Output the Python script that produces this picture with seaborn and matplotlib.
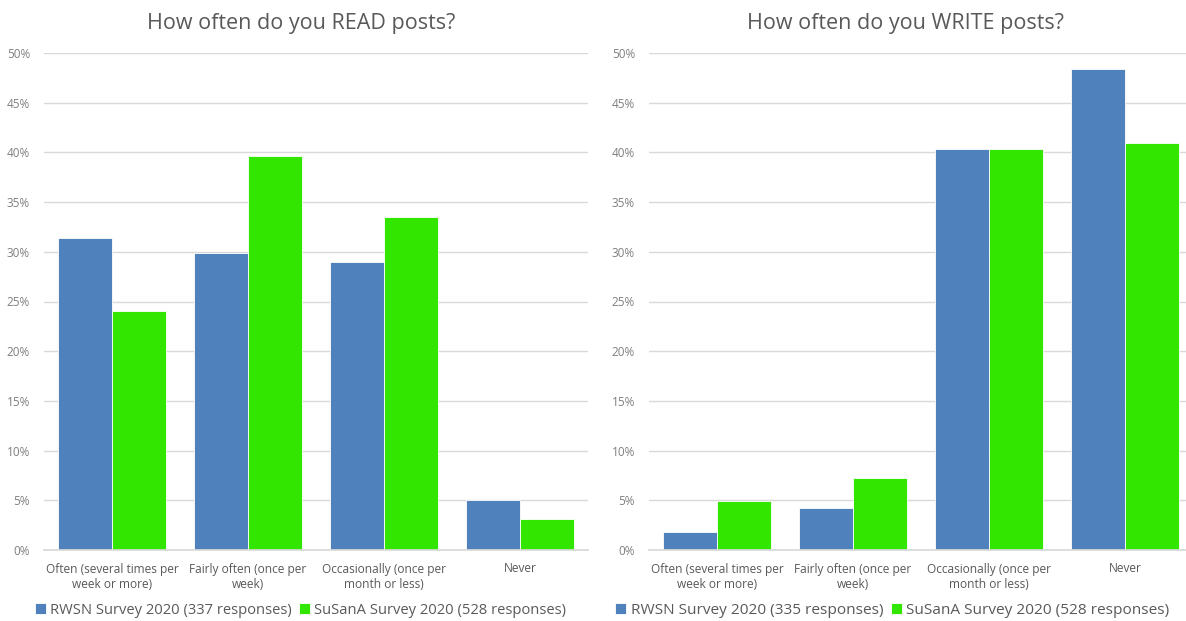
import matplotlib
matplotlib.use("Agg")
import matplotlib.pyplot as plt
import matplotlib.ticker as mticker
import pandas as pd
import seaborn as sns

categories = [
    "Often (several times per\nweek or more)",
    "Fairly often (once per\nweek)",
    "Occasionally (once per\nmonth or less)",
    "Never",
]

read_rwsn = [31.4, 29.9, 29.0, 5.0]
read_susana = [24.0, 39.6, 33.5, 3.1]
write_rwsn = [1.8, 4.2, 40.3, 48.4]
write_susana = [4.9, 7.2, 40.3, 40.9]

read_series = ["RWSN Survey 2020 (337 responses)", "SuSanA Survey 2020 (528 responses)"]
write_series = ["RWSN Survey 2020 (335 responses)", "SuSanA Survey 2020 (528 responses)"]

titles = ["How often do you READ posts?", "How often do you WRITE posts?"]
y_ticks = [0, 5, 10, 15, 20, 25, 30, 35, 40, 45, 50]

BLUE = "#4F81BD"
GREEN = "#33E600"
TEXT = "#595959"
GRID = "#D9D9D9"

sns.set_theme(style="white")
plt.rcParams["font.family"] = ["Open Sans", "DejaVu Sans"]


def frame(a, b, names):
    return pd.DataFrame({
        "category": categories * 2,
        "value": a + b,
        "series": [names[0]] * len(a) + [names[1]] * len(b),
    })


W, H = 1186, 621
fig = plt.figure(figsize=(W / 100, H / 100), dpi=100)
ax_left = fig.add_axes([44 / W, 1 - 550 / H, 544 / W, 497 / H])
ax_right = fig.add_axes([649 / W, 1 - 550 / H, 544 / W, 497 / H])

panels = [
    (ax_left, frame(read_rwsn, read_susana, read_series), read_series, titles[0], 0.473, 0.472, 10.6),
    (ax_right, frame(write_rwsn, write_susana, write_series), write_series, titles[1], 0.472, 0.447, 11.1),
]

for ax, df, names, title, title_x, legend_x, legend_size in panels:
    sns.barplot(
        data=df, x="category", y="value", hue="series",
        hue_order=names, order=categories,
        palette=[BLUE, GREEN], width=0.795, ax=ax,
        edgecolor="white", linewidth=0.6, saturation=1,
    )
    ax.set_ylim(0, 50)
    ax.set_yticks(y_ticks)
    ax.yaxis.set_major_formatter(mticker.FuncFormatter(lambda v, p: f"{v:.0f}%"))
    ax.set_xlim(-0.5, len(categories) - 0.5)
    ax.grid(axis="y", color=GRID, linewidth=1.0)
    ax.set_axisbelow(True)
    for side in ["top", "right", "left", "bottom"]:
        ax.spines[side].set_visible(False)
    ax.spines["bottom"].set_visible(True)
    ax.spines["bottom"].set_color(GRID)
    ax.tick_params(axis="y", length=0, labelsize=8.5, labelcolor="#7F7F7F", pad=10)
    ax.tick_params(axis="x", length=0, labelsize=8.6, labelcolor=TEXT, pad=9)
    ax.set_xlabel("")
    ax.set_ylabel("")
    ax.set_title(title, fontsize=15.5, color=TEXT, pad=17, x=title_x)
    ax.legend(
        loc="center", bbox_to_anchor=(legend_x, -0.121), ncol=2,
        frameon=False, fontsize=legend_size, labelcolor=TEXT,
        handlelength=0.7, handleheight=0.7, handletextpad=0.3,
        columnspacing=0.5,
    )

fig.savefig("out.png", dpi=100, facecolor="white")
